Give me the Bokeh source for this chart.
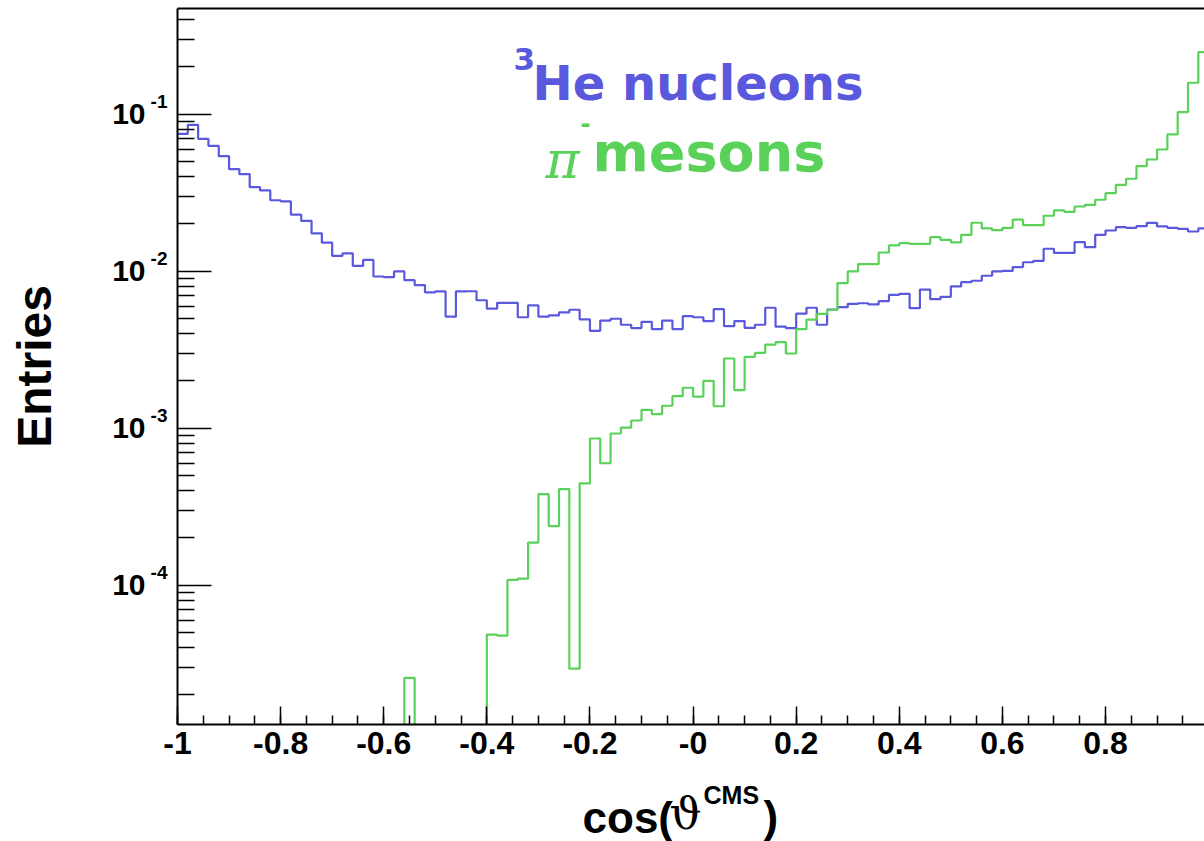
import numpy as np
from bokeh.plotting import figure
from bokeh.layouts import column
from bokeh.models import Range1d, FixedTicker, Label, LogAxis, LogScale, LinearAxis
from bokeh.embed import file_html
from bokeh.resources import INLINE

# ---------------- data ----------------
bin_edges = np.linspace(-1.0, 1.0, 101)

nucleons_3he = [
    0.0750, 0.0856, 0.0697, 0.0629, 0.0540, 0.0447, 0.0415, 0.0343, 0.0327, 0.0283,
    0.0278, 0.0229, 0.0209, 0.0174, 0.0152, 0.0125, 0.0130, 0.0108, 0.0118, 0.00925,
    0.00917, 0.00996, 0.00877, 0.00815, 0.00732, 0.00743, 0.00513, 0.00743, 0.00745, 0.00653,
    0.00578, 0.00629, 0.00629, 0.00509, 0.00605, 0.00513, 0.00523, 0.00546, 0.00568, 0.00494,
    0.00417, 0.00485, 0.00498, 0.00456, 0.00434, 0.00476, 0.00427, 0.00485, 0.00427, 0.00517,
    0.00509, 0.00481, 0.00573, 0.00447, 0.00481, 0.00436, 0.00456, 0.00585, 0.00443, 0.00434,
    0.00536, 0.00585, 0.00456, 0.00570, 0.00590, 0.00620, 0.00625, 0.00614, 0.00644, 0.00707,
    0.00718, 0.00581, 0.00764, 0.00663, 0.00687, 0.00800, 0.00851, 0.00869, 0.00935, 0.00996,
    0.01006, 0.01062, 0.01140, 0.01164, 0.01390, 0.01310, 0.01310, 0.01530, 0.01422, 0.01705,
    0.01816, 0.01906, 0.01890, 0.01936, 0.02033, 0.01927, 0.01890, 0.01862, 0.01790, 0.01871,
]

pi_minus = [
    0, 0, 0, 0, 0, 0, 0, 0, 0, 0,
    0, 0, 0, 0, 0, 0, 0, 0, 0, 0,
    0, 0, 2.57e-5, 0, 0, 0, 0, 0, 0, 0,
    4.85e-5, 4.77e-5, 1.08e-4, 1.10e-4, 1.87e-4, 3.80e-4, 2.38e-4, 4.09e-4, 2.94e-5, 4.45e-4,
    8.60e-4, 5.98e-4, 9.25e-4, 1.01e-3, 1.12e-3, 1.31e-3, 1.23e-3, 1.39e-3, 1.60e-3, 1.81e-3,
    1.59e-3, 2.00e-3, 1.38e-3, 2.78e-3, 1.75e-3, 2.85e-3, 3.02e-3, 3.41e-3, 3.53e-3, 2.99e-3,
    4.28e-3, 4.92e-3, 5.35e-3, 5.68e-3, 8.40e-3, 9.96e-3, 0.01110, 0.01110, 0.01315, 0.01459,
    0.01508, 0.01494, 0.01494, 0.01647, 0.01585, 0.01524, 0.01705, 0.02035, 0.01871, 0.01825,
    0.01888, 0.02133, 0.01963, 0.01963, 0.02255, 0.02436, 0.02389, 0.02583, 0.02648, 0.02851,
    0.03141, 0.03551, 0.03880, 0.04667, 0.05144, 0.05955, 0.07430, 0.10300, 0.15850, 0.24830,
]

x_ticks = [-1.0, -0.8, -0.6, -0.4, -0.2, 0.0, 0.2, 0.4, 0.6, 0.8, 1.0]
x_tick_labels = ["-1", "-0.8", "-0.6", "-0.4", "-0.2", "-0", "0.2", "0.4", "0.6", "0.8", "1"]
y_ticks = [1e-1, 1e-2, 1e-3, 1e-4]
y_tick_base = ["10", "10", "10", "10"]
y_tick_exp = ["-1", "-2", "-3", "-4"]

BLUE = "#5a58dc"
GREEN = "#5ad25a"

Y_LO, Y_HI = 1.297e-5, 0.471
SUP_SHIFT = 12.5 / 157.0  # superscript raise, in decades


# ---------------- helpers ----------------
def sx(px):
    return -1.0 + (px - 177.0) / 515.5


def sy(py):
    return 10 ** (-1.0 - (py - 113.7) / 157.0)


def step_path(edges, vals, floor=1e-9):
    v = np.asarray(vals, dtype=float)
    v = np.where(v > 0, v, floor)
    xs = np.repeat(edges, 2)[1:-1]
    ys = np.repeat(v, 2)
    return xs, ys


def bare_axis(axis):
    axis.axis_line_color = None
    axis.major_tick_line_color = None
    axis.minor_tick_line_color = None
    axis.major_tick_in = 0
    axis.major_tick_out = 0
    axis.minor_tick_in = 0
    axis.minor_tick_out = 0


p = figure(
    width=1204, height=770,
    x_range=Range1d(-1.0, 0.992),
    y_range=Range1d(Y_LO, Y_HI),
    y_axis_type="log",
    output_backend="svg",
    toolbar_location=None,
    min_border_left=177, min_border_right=0,
    min_border_top=8, min_border_bottom=46,
)
p.xgrid.visible = False
p.ygrid.visible = False
p.outline_line_color = None
p.background_fill_color = "white"
p.border_fill_color = "white"

# histograms
bx, by = step_path(bin_edges, nucleons_3he)
p.line(bx, by, line_color=BLUE, line_width=2.2)
gx, gy = step_path(bin_edges, pi_minus)
p.line(gx, gy, line_color=GREEN, line_width=2.2)

# x axis
xa = p.xaxis[0]
x_minor = [round(-1.0 + 0.05 * k, 2) for k in range(41)]
xa.ticker = FixedTicker(ticks=x_ticks, minor_ticks=x_minor)
xa.major_label_overrides = {t: s for t, s in zip(x_ticks, x_tick_labels)}
xa.axis_line_width = 2
xa.major_tick_in = 18
xa.major_tick_out = 0
xa.minor_tick_in = 9
xa.minor_tick_out = 0
xa.major_tick_line_width = 1.5
xa.minor_tick_line_width = 1.5
xa.major_label_text_font = "Liberation Sans"
xa.major_label_text_font_style = "bold"
xa.major_label_text_font_size = "32px"
xa.major_label_text_color = "black"
xa.major_label_standoff = 7

# top frame line (no ticks, no labels)
xt = LinearAxis(ticker=FixedTicker(ticks=x_ticks))
xt.major_label_overrides = {t: "" for t in x_ticks}
bare_axis(xt)
xt.axis_line_color = "black"
xt.axis_line_width = 2
xt.major_label_standoff = 0
p.add_layout(xt, "above")

# y axis (ticks, nearest the frame; its own labels left empty)
ya = p.yaxis[0]
y_minor = [m * 10.0 ** e for e in range(-5, 0) for m in range(2, 10)]
ya.ticker = FixedTicker(ticks=y_ticks, minor_ticks=y_minor)
ya.major_label_overrides = {t: "" for t in y_ticks}
ya.axis_line_width = 2
ya.major_tick_in = 34
ya.major_tick_out = 0
ya.minor_tick_in = 17
ya.minor_tick_out = 0
ya.major_tick_line_width = 1.5
ya.minor_tick_line_width = 1.5
ya.major_label_standoff = 0

# exponent labels (axis on a slightly raised copy of the range)
p.extra_y_ranges = {"sup": Range1d(Y_LO * 10 ** (-SUP_SHIFT), Y_HI * 10 ** (-SUP_SHIFT))}
p.extra_y_scales = {"sup": LogScale()}
yb = LogAxis(y_range_name="sup", ticker=FixedTicker(ticks=y_ticks))
yb.major_label_overrides = {t: s for t, s in zip(y_ticks, y_tick_exp)}
bare_axis(yb)
yb.major_label_text_font = "Liberation Sans"
yb.major_label_text_font_style = "bold"
yb.major_label_text_font_size = "19px"
yb.major_label_text_color = "black"
yb.major_label_standoff = 10
p.add_layout(yb, "left")

# base "10" labels and the axis title
yc = LogAxis(ticker=FixedTicker(ticks=y_ticks))
yc.major_label_overrides = {t: s for t, s in zip(y_ticks, y_tick_base)}
bare_axis(yc)
yc.major_label_text_font = "Liberation Sans"
yc.major_label_text_font_style = "bold"
yc.major_label_text_font_size = "30px"
yc.major_label_text_color = "black"
yc.major_label_standoff = 2
yc.axis_label = "Entries"
yc.axis_label_text_font = "Liberation Sans"
yc.axis_label_text_font_style = "bold"
yc.axis_label_text_font_size = "48px"
yc.axis_label_text_color = "black"
yc.axis_label_standoff = 48
p.add_layout(yc, "left")


# ---------------- in-frame titles ----------------
def mid(py_base, size):
    return py_base - 0.346 * size


def add_label(fig, text, x, y, font, size, color="black", style="bold"):
    fig.add_layout(Label(
        x=x, y=y, text=text,
        text_font=font, text_font_size=f"{size}px", text_font_style=style,
        text_color=color, text_align="left", text_baseline="middle",
    ))


add_label(p, "3", sx(513), sy(mid(69, 31)), "DejaVu Sans", 31, BLUE)
add_label(p, "He nucleons", sx(532), sy(mid(99.5, 48)), "DejaVu Sans", 48, BLUE)
add_label(p, "\u03c0", sx(545), sy(mid(178, 52)), "DejaVu Serif", 52, GREEN, style="italic")
add_label(p, "-", sx(580), sy(123), "Liberation Sans", 30, GREEN)
add_label(p, "mesons", sx(592), sy(mid(171, 54)), "DejaVu Sans", 54, GREEN)

# ---------------- x-axis title strip (frame aligned with the plot's) ----------------
foot = figure(
    width=1204, height=71,
    x_range=p.x_range, y_range=Range1d(841, 770),
    output_backend="svg", toolbar_location=None,
    x_axis_location=None, y_axis_location=None,
    min_border_left=0, min_border_right=0, min_border_top=0, min_border_bottom=0,
)
foot.xgrid.visible = False
foot.ygrid.visible = False
foot.outline_line_color = None
foot.background_fill_color = "white"
foot.border_fill_color = "white"

add_label(foot, "cos(", sx(582), mid(832.7, 44), "Liberation Sans", 44)
add_label(foot, "\u03d1", sx(669), mid(829, 45), "DejaVu Serif", 45, style="normal")
add_label(foot, "CMS", sx(703), mid(803, 25), "Liberation Sans", 25)
add_label(foot, ")", sx(763), mid(831, 44), "Liberation Sans", 44)

layout = column(p, foot, spacing=0)

open("out.html", "w").write(file_html(layout, INLINE))
